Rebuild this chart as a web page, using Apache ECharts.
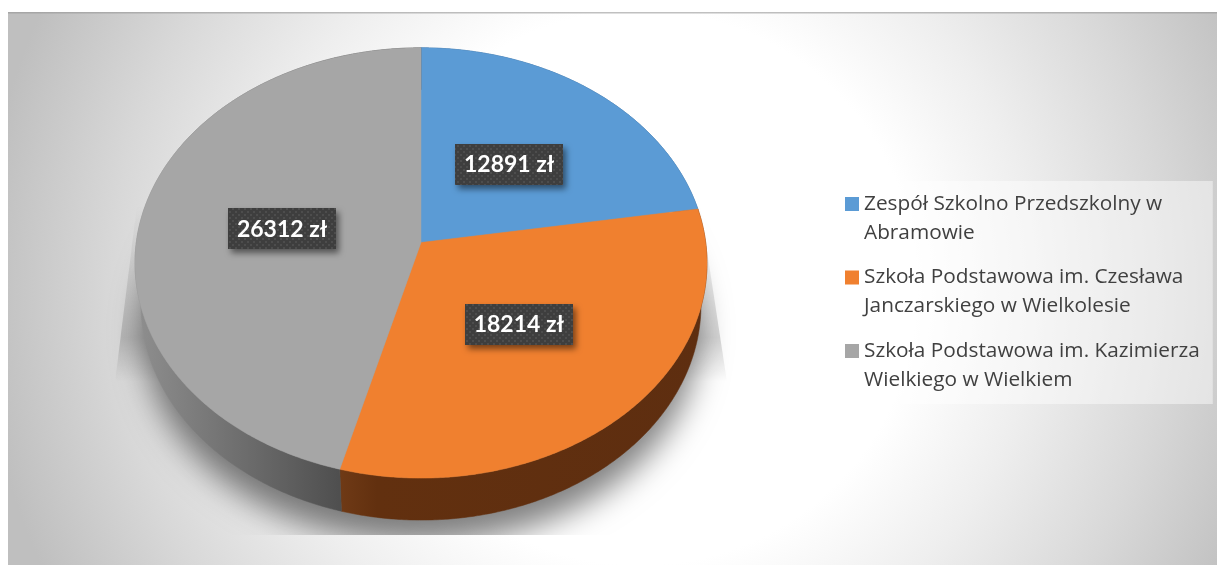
<!DOCTYPE html>
<html><head><meta charset="utf-8">
<style>html,body{margin:0;padding:0;background:#fff}#c{width:1217px;height:565px}</style>
<script src="https://cdn.jsdelivr.net/npm/echarts@6/dist/echarts.min.js"></script>
</head><body><div id="c"></div>
<script>
const categories = ['Zespół Szkolno Przedszkolny w Abramowie','Szkoła Podstawowa im. Czesława Janczarskiego w Wielkolesie','Szkoła Podstawowa im. Kazimierza Wielkiego w Wielkiem'];
const categoryLines = [['Zespół Szkolno Przedszkolny w','Abramowie'],['Szkoła Podstawowa im. Czesława','Janczarskiego w Wielkolesie'],['Szkoła Podstawowa im. Kazimierza','Wielkiego w Wielkiem']];
const values = [12891,18214,26312];
const unit = ' zł';
const topColors = ['#5b9bd5','#f0802f','#a6a6a6'];
const total = values.reduce((a,b)=>a+b,0);

// tilted-pie projection
const P = {cx:421, cy:242.5, A:284.7, B:213.2, k:0.0951, depth:42, shrink:0.979};
function project(theta,f){
  const s=Math.sin(theta)*f,c=Math.cos(theta)*f,w=1+P.k*c;
  return [P.cx+P.A*s/w, P.cy-P.B*c/w];
}
function lower(p){return [P.cx+(p[0]-P.cx)*P.shrink, p[1]+P.depth];}
function arc(a0,a1){
  const n=Math.max(8,Math.ceil((a1-a0)*120)),pts=[];
  for(let i=0;i<=n;i++)pts.push(project(a0+(a1-a0)*i/n,1));
  return pts;
}
const sideFills=[
  '#2f5f8c',
  new echarts.graphic.LinearGradient(340,0,710,0,[{offset:0,color:'#6f3a16'},{offset:0.1,color:'#62300f'},{offset:1,color:'#5e2e10'}],true),
  new echarts.graphic.LinearGradient(135,0,342,0,[{offset:0,color:'#8f8f8f'},{offset:1,color:'#4e4e4e'}],true)
];
function dotPattern(){
  const c=document.createElement('canvas');c.width=6;c.height=6;
  const g=c.getContext('2d');g.fillStyle='#3e3e3e';g.fillRect(0,0,6,6);
  g.fillStyle='#4d4d4d';g.fillRect(1,1,2,2);g.fillRect(4,4,2,2);
  return c;
}
const pattern=dotPattern();
function makeRender(i){
  return function(params,api){
    const v=api.value(0);
    const before=values.slice(0,i).reduce((a,b)=>a+b,0);
    const a0=before/total*2*Math.PI,a1=(before+v)/total*2*Math.PI;
    const rim=arc(a0,a1);
    const side=rim.concat(rim.map(lower).reverse());
    const face=rim.concat([[P.cx,P.cy]]);
    const m=project((a0+a1)/2,0.5);
    const mid=[P.cx+(m[0]-P.cx)*0.99,m[1]];
    const lw=108,lh=41;
    return {type:'group',children:[
      {type:'polygon',shape:{points:side},style:{fill:sideFills[i],stroke:sideFills[i],lineWidth:0.5}},
      {type:'polygon',shape:{points:face},style:{fill:topColors[i],stroke:topColors[i],lineWidth:0.5}},
      {type:'rect',z2:20,shape:{x:Math.round(mid[0]-lw/2),y:Math.round(mid[1]-lh/2),width:lw,height:lh},
        style:{fill:{image:pattern,repeat:'repeat'},shadowBlur:6,shadowOffsetX:3,shadowOffsetY:4,shadowColor:'rgba(0,0,0,0.5)'}},
      {type:'text',z2:21,style:{x:mid[0],y:mid[1]+0.5,text:v+unit,fill:'#fff',font:'bold 23px Lato',align:'center',verticalAlign:'middle'}}
    ]};
  };
}
const bg=()=>new echarts.graphic.RadialGradient(640,288,660,[
  {offset:0,color:'#ffffff'},{offset:0.42,color:'#ffffff'},{offset:0.6,color:'#eeeeee'},
  {offset:0.8,color:'#d8d8d8'},{offset:0.92,color:'#c9c9c9'},{offset:1,color:'#bfbfbf'}],true);
const chart=echarts.init(document.getElementById('c'),null,{renderer:'canvas'});
chart.setOption({
  animation:false,
  backgroundColor:'#ffffff',
  graphic:[
    {type:'rect',z:-10,shape:{x:8,y:12,width:1209,height:553},style:{fill:bg()}},
    {type:'rect',z:-9,shape:{x:8,y:12,width:1209,height:1.5},style:{fill:'rgba(150,150,150,0.6)'}},
    {type:'polygon',z:-8,shape:{points:[[137,205],[115,382],[727,382],[700,205]]},
      style:{fill:new echarts.graphic.LinearGradient(0,205,0,382,[{offset:0,color:'rgba(0,0,0,0)'},{offset:0.75,color:'rgba(0,0,0,0.16)'},{offset:1,color:'rgba(0,0,0,0)'}],true)}},
    {type:'ellipse',z:-7,shape:{cx:421,cy:306,rx:277,ry:211},
      style:{fill:'#999999',shadowBlur:32,shadowOffsetY:26,shadowColor:'rgba(0,0,0,0.5)'}},
    {type:'rect',z:-6,shape:{x:8,y:535,width:1209,height:30},style:{fill:bg()}}
  ],
  legend:{
    show:true,left:832,top:181,orient:'vertical',selectedMode:false,
    backgroundColor:'rgba(255,255,255,0.45)',padding:[8.5,13,9.5,13],
    itemWidth:14,itemHeight:58,itemGap:15.5,
    icon:'path://M0,7.5H14V21.5H0Z M0,0L14,0Z M0,58L14,58Z',
    formatter:n=>categoryLines[categories.indexOf(n)].join('\n'),
    textStyle:{fontFamily:'Open Sans',fontSize:20.8,lineHeight:29,color:'#404040'},
    data:categories
  },
  series:categories.map((name,i)=>({
    type:'custom',name,coordinateSystem:'none',silent:true,
    itemStyle:{color:topColors[i]},
    data:[[values[i]]],
    renderItem:makeRender(i)
  }))
});
</script></body></html>
